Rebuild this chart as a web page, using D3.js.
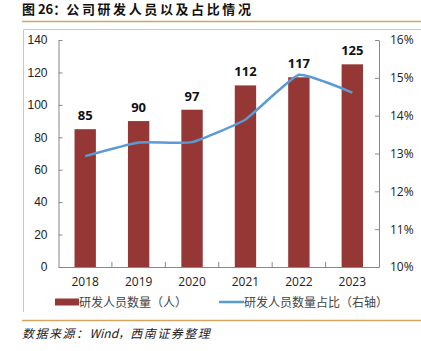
<!DOCTYPE html>
<html>
<head>
<meta charset="utf-8">
<script src="https://cdn.jsdelivr.net/npm/d3@7"></script>
<style>
  body { margin: 0; background: #fff; }
  svg { display: block; font-family: "Noto Sans CJK SC", "Noto Sans", sans-serif; }
</style>
</head>
<body>
<div id="chart"></div>
<script>
// chart data
const years = ["2018", "2019", "2020", "2021", "2022", "2023"]
const staff = [85, 90, 97, 112, 117, 125]
const share = [12.93, 13.29, 13.30, 13.90, 15.08, 14.61]
const leftTicks = [0, 20, 40, 60, 80, 100, 120, 140]
const rightTicks = [10, 11, 12, 13, 14, 15, 16]

const width = 421, height = 351
const margin = {top: 40, right: 42, bottom: 84, left: 58.5}
const barColor = "#953735", lineColor = "#5b9bd5"

const svg = d3.select("#chart").append("svg")
    .attr("width", width)
    .attr("height", height)

// title and separators
const title = svg.append("text")
    .attr("x", 22).attr("y", 14)
    .attr("font-size", 13).attr("font-weight", "bold").attr("fill", "#111")
title.append("tspan").text("图 26：")
title.append("tspan").attr("letter-spacing", 2.6).text("公司研发人员以及占比情况")

svg.append("line").attr("x1", 22).attr("x2", width).attr("y1", 21.5).attr("y2", 21.5)
    .attr("stroke", "#d4a55c").attr("stroke-width", 1.5)
svg.append("line").attr("x1", 22).attr("x2", width).attr("y1", 320.5).attr("y2", 320.5)
    .attr("stroke", "#d4a55c").attr("stroke-width", 1.5)

// light frame around the plot
svg.append("path")
    .attr("d", `M23.5,312 V29.5 H${width}`)
    .attr("fill", "none").attr("stroke", "#c8c8c8")

const x = d3.scaleBand()
    .domain(years)
    .range([margin.left, width - margin.right])
    .paddingInner(0.6).paddingOuter(0.3)

const xb = d3.scaleBand().domain(years).range([margin.left, width - margin.right])

const y = d3.scaleLinear().domain([0, 140]).range([height - margin.bottom, margin.top])
const y2 = d3.scaleLinear().domain([10, 16]).range([height - margin.bottom, margin.top])

// bars
svg.append("g").selectAll("rect")
    .data(staff)
    .join("rect")
    .attr("x", (d, i) => x(years[i]))
    .attr("y", d => y(d))
    .attr("width", x.bandwidth())
    .attr("height", d => y(0) - y(d))
    .attr("fill", barColor)

// bar labels
svg.append("g").selectAll("text")
    .data(staff)
    .join("text")
    .attr("x", (d, i) => x(years[i]) + x.bandwidth() / 2)
    .attr("y", d => y(d) - 9)
    .attr("text-anchor", "middle")
    .attr("font-size", 13).attr("font-weight", "bold").attr("fill", "#111")
    .attr("font-family", "'Open Sans', sans-serif")
    .text(d => d)

// line on right axis
const line = d3.line()
    .x((d, i) => xb(years[i]) + xb.bandwidth() / 2)
    .y(d => y2(d))
    .curve(d3.curveCardinal.tension(0.6))

svg.append("path")
    .datum(share)
    .attr("d", line)
    .attr("fill", "none")
    .attr("stroke", lineColor)
    .attr("stroke-width", 2.5)

// axes
function styleAxis(font) {
    return g => {
        g.selectAll("path, line").attr("stroke", "#888")
        g.selectAll("text").attr("font-size", 12).attr("fill", "#222").attr("font-family", font)
    }
}

svg.append("g")
    .attr("transform", `translate(${margin.left},0)`)
    .call(d3.axisLeft(y).tickValues(leftTicks).tickSize(-4).tickPadding(11).tickSizeOuter(0))
    .call(styleAxis("'Liberation Sans', Arial, sans-serif"))

svg.append("g")
    .attr("transform", `translate(${width - margin.right},0)`)
    .call(d3.axisRight(y2).tickValues(rightTicks).tickSize(-4).tickPadding(11).tickSizeOuter(0)
        .tickFormat(d => d + "%"))
    .call(styleAxis("'Open Sans', sans-serif"))

svg.append("g")
    .attr("transform", `translate(0,${height - margin.bottom})`)
    .call(d3.axisBottom(xb).tickSize(0).tickPadding(10))
    .call(styleAxis("'Open Sans', sans-serif"))

// tick marks between categories
svg.append("g").selectAll("line")
    .data(years.slice(1))
    .join("line")
    .attr("x1", d => xb(d)).attr("x2", d => xb(d))
    .attr("y1", height - margin.bottom).attr("y2", height - margin.bottom - 5)
    .attr("stroke", "#888")

// legend
const legend = svg.append("g").attr("font-size", 12).attr("fill", "#444")
legend.append("rect").attr("x", 55).attr("y", 298.5).attr("width", 24).attr("height", 7).attr("fill", barColor)
legend.append("text").attr("x", 79).attr("y", 306.5).text("研发人员数量（人）")
legend.append("line").attr("x1", 219).attr("x2", 244).attr("y1", 302).attr("y2", 302)
    .attr("stroke", lineColor).attr("stroke-width", 2.5)
legend.append("text").attr("x", 244).attr("y", 306.5).text("研发人员数量占比（右轴）")

// source
const src = svg.append("text")
    .attr("x", 22).attr("y", 338)
    .attr("font-size", 12).attr("font-style", "italic").attr("fill", "#222")
src.append("tspan").attr("letter-spacing", 1.5).text("数据来源：")
src.append("tspan").text("Wind，")
src.append("tspan").attr("letter-spacing", 1.5).text("西南证券整理")
</script>
</body>
</html>
